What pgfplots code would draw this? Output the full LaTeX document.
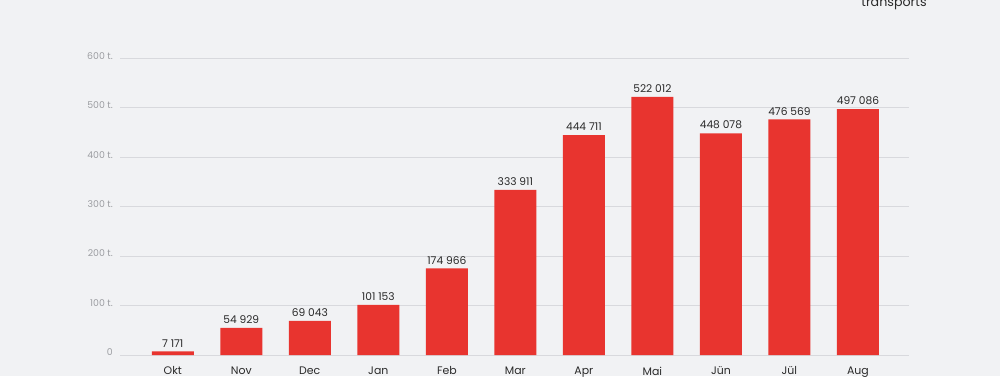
\documentclass[border=0pt]{standalone}
\usepackage{pgfplots}
\pgfplotsset{compat=1.18}
\usepackage{fontspec}
\setmainfont{Poppins}
\definecolor{bgc}{HTML}{F1F2F4}
\definecolor{gridc}{HTML}{D8D9DD}
\definecolor{barc}{HTML}{E8342F}
\definecolor{tickc}{HTML}{9C9EA2}
\definecolor{txtc}{HTML}{2A2A2A}
\begin{document}
\begin{tikzpicture}
\fill[bgc, use as bounding box] (-90pt,-15.75pt) rectangle (660pt,266.25pt);
\begin{axis}[
  at={(0,0)}, anchor=south west,
  scale only axis, width=591.75pt, height=222.5pt,
  xmin=-0.77, xmax=10.745, ymin=0, ymax=600,
  axis line style={draw=none},
  major tick length=0pt,
  ymajorgrids, grid style={gridc, line width=0.7pt},
  ytick={0,100,200,300,400,500,600},
  yticklabels={0,100 t.,200 t.,300 t.,400 t.,500 t.,600 t.},
  yticklabel style={anchor=base east, inner sep=0pt, xshift=-5.25pt, yshift=-0.6pt,
    text=tickc, font=\fontsize{7}{8}\selectfont},
  xtick={0,1,2,3,4,5,6,7,8,9,10},
  xticklabels={Okt,Nov,Dec,Jan,Feb,Mar,Apr,Mai,Jün,Jül,Aug},
  xticklabel style={anchor=north, inner sep=0pt, yshift=-8.6pt,
    text=txtc, font=\fontsize{8.2}{9}\selectfont},
  ybar, bar width=31.5pt,
  nodes near coords={\pgfmathprintnumber[assume math mode=true, fixed, precision=0, 1000 sep={\ }]{\pgfplotspointmeta}},
  every node near coord/.append style={anchor=south, inner sep=0pt, yshift=3pt,
    text=txtc, font=\fontsize{8}{9}\selectfont},
  clip=false,
]
\addplot[fill=barc, draw=none, point meta=\thisrow{v}] table[x=x, y expr=\thisrow{v}/1000] {
x v
0 7171
1 54929
2 69043
3 101153
4 174966
5 333911
6 444711
7 522012
8 448078
9 476569
10 497086
};
\end{axis}
\node[anchor=base, text=txtc, font=\fontsize{9.5}{10}\selectfont] at (580.5pt,261.5pt) {transports};
\end{tikzpicture}
\end{document}
